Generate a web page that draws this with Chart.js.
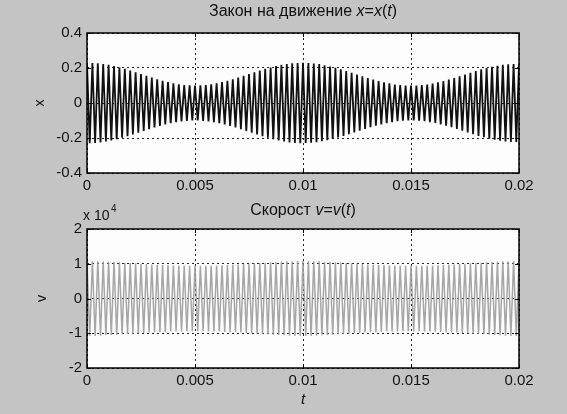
<!DOCTYPE html>
<html>
<head>
<meta charset="utf-8">
<script src="https://cdn.jsdelivr.net/npm/chart.js@4"></script>
<style>
  html, body { margin: 0; padding: 0; }
  body { width: 567px; height: 414px; background: #c4c4c4; position: relative; overflow: hidden; }
  canvas { position: absolute; left: 0; }
  #cx { top: 0; }
  #cv { top: 200px; }
</style>
</head>
<body>
<canvas id="cx" width="567" height="200"></canvas>
<canvas id="cv" width="567" height="214"></canvas>
<script>
// time samples, ms (one per half period)
const tMs = [
  0,0.125,0.25,0.375,0.5,0.625,0.75,0.875,
  1,1.125,1.25,1.375,1.5,1.625,1.75,1.875,
  2,2.125,2.25,2.375,2.5,2.625,2.75,2.875,
  3,3.125,3.25,3.375,3.5,3.625,3.75,3.875,
  4,4.125,4.25,4.375,4.5,4.625,4.75,4.875,
  5,5.125,5.25,5.375,5.5,5.625,5.75,5.875,
  6,6.125,6.25,6.375,6.5,6.625,6.75,6.875,
  7,7.125,7.25,7.375,7.5,7.625,7.75,7.875,
  8,8.125,8.25,8.375,8.5,8.625,8.75,8.875,
  9,9.125,9.25,9.375,9.5,9.625,9.75,9.875,
  10,10.125,10.25,10.375,10.5,10.625,10.75,10.875,
  11,11.125,11.25,11.375,11.5,11.625,11.75,11.875,
  12,12.125,12.25,12.375,12.5,12.625,12.75,12.875,
  13,13.125,13.25,13.375,13.5,13.625,13.75,13.875,
  14,14.125,14.25,14.375,14.5,14.625,14.75,14.875,
  15,15.125,15.25,15.375,15.5,15.625,15.75,15.875,
  16,16.125,16.25,16.375,16.5,16.625,16.75,16.875,
  17,17.125,17.25,17.375,17.5,17.625,17.75,17.875,
  18,18.125,18.25,18.375,18.5,18.625,18.75,18.875,
  19,19.125,19.25,19.375,19.5,19.625,19.75,19.875,
  20
];

// displacement x(t), peaks
const xVals = [
  0.23,-0.23,0.229,-0.228,0.227,-0.225,0.223,-0.22,0.218,-0.214,
  0.211,-0.207,0.203,-0.199,0.195,-0.19,0.185,-0.18,0.175,-0.17,
  0.165,-0.16,0.155,-0.15,0.145,-0.14,0.135,-0.131,0.127,-0.123,
  0.119,-0.116,0.112,-0.11,0.107,-0.105,0.103,-0.102,0.101,-0.1,
  0.1,-0.1,0.101,-0.102,0.103,-0.105,0.107,-0.11,0.112,-0.116,
  0.119,-0.123,0.127,-0.131,0.135,-0.14,0.145,-0.15,0.155,-0.16,
  0.165,-0.17,0.175,-0.18,0.185,-0.19,0.195,-0.199,0.203,-0.207,
  0.211,-0.214,0.218,-0.22,0.223,-0.225,0.227,-0.228,0.229,-0.23,
  0.23,-0.229,0.228,-0.227,0.226,-0.224,0.222,-0.219,0.216,-0.213,
  0.209,-0.205,0.201,-0.197,0.193,-0.188,0.183,-0.178,0.173,-0.168,
  0.163,-0.158,0.153,-0.148,0.143,-0.138,0.134,-0.13,0.126,-0.122,
  0.118,-0.115,0.112,-0.109,0.106,-0.104,0.102,-0.101,0.1,-0.099,
  0.099,-0.099,0.1,-0.101,0.102,-0.104,0.106,-0.109,0.111,-0.114,
  0.118,-0.122,0.126,-0.13,0.134,-0.138,0.143,-0.148,0.153,-0.158,
  0.163,-0.168,0.173,-0.178,0.183,-0.188,0.192,-0.196,0.2,-0.204,
  0.207,-0.21,0.213,-0.216,0.218,-0.22,0.221,-0.222,0.222,-0.223,
  0.22
];

// velocity v(t), in units of 10^4
const vVals = [
  1.08,-1.08,1.08,-1.08,1.07,-1.07,1.07,-1.06,1.06,-1.05,
  1.05,-1.04,1.04,-1.03,1.03,-1.02,1.02,-1.01,1.01,-1.0,
  1.0,-0.99,0.99,-0.98,0.98,-0.97,0.97,-0.97,0.96,-0.96,
  0.96,-0.95,0.95,-0.95,0.95,-0.95,0.94,-0.94,0.94,-0.94,
  0.94,-0.94,0.94,-0.94,0.94,-0.95,0.95,-0.95,0.95,-0.95,
  0.96,-0.96,0.96,-0.97,0.97,-0.97,0.98,-0.98,0.99,-0.99,
  1.0,-1.0,1.01,-1.01,1.02,-1.02,1.03,-1.03,1.04,-1.04,
  1.05,-1.05,1.06,-1.06,1.07,-1.07,1.07,-1.08,1.08,-1.08,
  1.08,-1.08,1.08,-1.08,1.07,-1.07,1.07,-1.06,1.06,-1.05,
  1.05,-1.04,1.04,-1.03,1.03,-1.02,1.02,-1.01,1.01,-1.0,
  1.0,-0.99,0.99,-0.98,0.98,-0.97,0.97,-0.97,0.96,-0.96,
  0.96,-0.95,0.95,-0.95,0.95,-0.95,0.94,-0.94,0.94,-0.94,
  0.94,-0.94,0.94,-0.94,0.94,-0.95,0.95,-0.95,0.95,-0.95,
  0.96,-0.96,0.96,-0.97,0.97,-0.97,0.98,-0.98,0.99,-0.99,
  1.0,-1.0,1.01,-1.01,1.02,-1.02,1.03,-1.03,1.04,-1.04,
  1.05,-1.05,1.06,-1.06,1.07,-1.07,1.07,-1.08,1.08,-1.08,
  1.07
];

const xTicks = [0, 0.005, 0.01, 0.015, 0.02];
const FONT = "'Liberation Sans', Arial, sans-serif";
const TICK_SIZE = 15;

function richText(ctx, parts, cx, y, size) {
    let total = 0;
    parts.forEach(p => {
        ctx.font = (p.it ? 'italic ' : '') + size + 'px ' + FONT;
        p.w = ctx.measureText(p.s).width;
        total += p.w;
    });
    let x = cx - total / 2;
    ctx.textAlign = 'left';
    ctx.textBaseline = 'middle';
    parts.forEach(p => {
        ctx.font = (p.it ? 'italic ' : '') + size + 'px ' + FONT;
        ctx.fillText(p.s, x, y);
        x += p.w;
    });
}

// white plot area, box and inward tick marks like matlab
const framePlugin = {
    id: 'frame',
    beforeDraw(chart) {
        const a = chart.chartArea;
        const ctx = chart.ctx;
        ctx.save();
        ctx.fillStyle = '#fdfdfd';
        ctx.fillRect(a.left, a.top, a.right - a.left, a.bottom - a.top);
        ctx.restore();
    },
    afterDraw(chart, args, opts) {
        const a = chart.chartArea;
        const ctx = chart.ctx;
        ctx.save();
        ctx.strokeStyle = '#000';
        ctx.lineWidth = 1.5;
        ctx.strokeRect(a.left, a.top, a.right - a.left, a.bottom - a.top);
        ctx.lineWidth = 1;
        ctx.beginPath();
        chart.scales.x.ticks.forEach(t => {
            const px = Math.round(chart.scales.x.getPixelForValue(t.value)) + 0.5;
            ctx.moveTo(px, a.bottom); ctx.lineTo(px, a.bottom - 4);
            ctx.moveTo(px, a.top); ctx.lineTo(px, a.top + 4);
        });
        chart.scales.y.ticks.forEach(t => {
            const py = Math.round(chart.scales.y.getPixelForValue(t.value)) + 0.5;
            ctx.moveTo(a.left, py); ctx.lineTo(a.left + 4, py);
            ctx.moveTo(a.right, py); ctx.lineTo(a.right - 4, py);
        });
        ctx.stroke();

        ctx.fillStyle = '#111';
        const cx = (a.left + a.right) / 2;
        richText(ctx, opts.title, cx, opts.titleY, 16);

        // y label, rotated
        ctx.save();
        ctx.translate(opts.ylabX, (a.top + a.bottom) / 2);
        ctx.rotate(-Math.PI / 2);
        ctx.font = TICK_SIZE + 'px ' + FONT;
        ctx.textAlign = 'center';
        ctx.textBaseline = 'middle';
        ctx.fillText(opts.ylab, 0, 0);
        ctx.restore();

        if (opts.exponent) {
            ctx.font = '14px ' + FONT;
            ctx.textAlign = 'left';
            ctx.textBaseline = 'middle';
            ctx.fillText('x 10', 83, 16);
            ctx.font = '10px ' + FONT;
            ctx.fillText('4', 111, 9);
        }
        if (opts.xlab) {
            richText(ctx, [{ s: opts.xlab, it: true }], cx, opts.xlabY, TICK_SIZE);
        }
        ctx.restore();
    }
};

function makeChart(id, values, yMin, yMax, yStep, color, lineW, padTop, xAxisH, frameOpts) {
    const pts = tMs.map((t, i) => ({ x: t / 1000, y: values[i] }));
    return new Chart(document.getElementById(id), {
        type: 'line',
        data: {
            datasets: [{
                data: pts,
                borderColor: color,
                borderWidth: lineW,
                pointRadius: 0,
                tension: 0,
                fill: false
            }]
        },
        options: {
            responsive: false,
            animation: false,
            events: [],
            layout: { padding: { left: 0, top: padTop, right: 48, bottom: 0 } },
            plugins: {
                legend: { display: false },
                tooltip: { enabled: false },
                frame: frameOpts
            },
            scales: {
                x: {
                    type: 'linear',
                    min: 0, max: 0.02,
                    afterBuildTicks: s => { s.ticks = xTicks.map(v => ({ value: v })); },
                    afterFit: s => { s.height = xAxisH; },
                    ticks: {
                        autoSkip: false, maxRotation: 0, padding: 4,
                        color: '#111', font: { family: FONT, size: TICK_SIZE },
                        callback: v => String(Number(v.toFixed(4)))
                    },
                    grid: { drawTicks: false, color: '#222', lineWidth: 1 },
                    border: { display: false, dash: [2, 3] }
                },
                y: {
                    min: yMin, max: yMax,
                    afterFit: s => { s.width = 87; },
                    ticks: {
                        stepSize: yStep, padding: 5,
                        color: '#111', font: { family: FONT, size: TICK_SIZE },
                        callback: v => String(Number(v.toFixed(2)))
                    },
                    grid: { drawTicks: false, color: '#222', lineWidth: 1 },
                    border: { display: false, dash: [2, 3] }
                }
            }
        },
        plugins: [framePlugin]
    });
}

makeChart('cx', xVals, -0.4, 0.4, 0.2, '#111', 1.8, 33, 27, {
    title: [{ s: 'Закон на движение ' }, { s: 'x', it: true }, { s: '=' }, { s: 'x', it: true }, { s: '(' }, { s: 't', it: true }, { s: ')' }],
    titleY: 12, ylab: 'x', ylabX: 40
});

makeChart('cv', vVals, -2, 2, 1, 'rgba(150,150,150,0.85)', 1.5, 29, 46, {
    title: [{ s: 'Скорост ' }, { s: 'v', it: true }, { s: '=' }, { s: 'v', it: true }, { s: '(' }, { s: 't', it: true }, { s: ')' }],
    titleY: 11, ylab: 'v', ylabX: 42, exponent: true, xlab: 't', xlabY: 200
});
</script>
</body>
</html>
